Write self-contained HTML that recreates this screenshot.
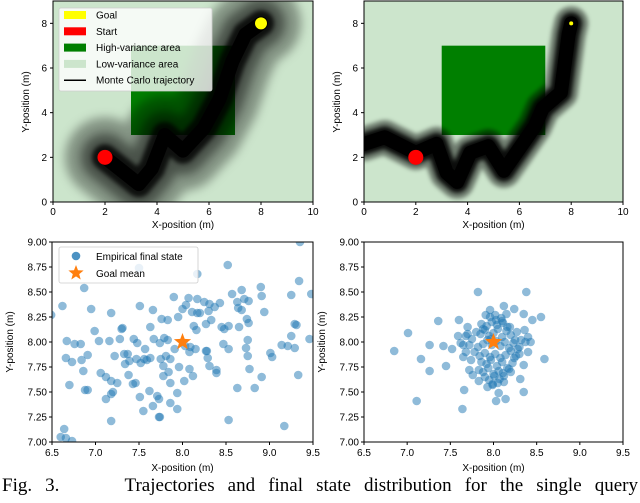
<!DOCTYPE html>
<html><head><meta charset="utf-8"><style>
html,body{margin:0;padding:0;background:#fff;width:640px;height:503px;overflow:hidden}
svg{position:absolute;left:0;top:0}
text{font-family:"Liberation Sans",sans-serif;font-size:10px;fill:#000}
#caption{position:absolute;left:2px;top:475px;width:636px;font-family:"Liberation Serif",serif;font-size:19px;text-align:justify;text-align-last:justify;white-space:nowrap;word-spacing:8px}
</style></head><body>
<svg id="chart" width="640" height="503"><defs><filter id="blur" filterUnits="userSpaceOnUse" x="0" y="0" width="640" height="503"><feGaussianBlur stdDeviation="5"/></filter><filter id="blur2" filterUnits="userSpaceOnUse" x="0" y="0" width="640" height="503"><feGaussianBlur stdDeviation="2"/></filter></defs></svg>
<div id="caption">Fig. 3.&nbsp;&nbsp;&nbsp;&nbsp; Trajectories and final state distribution for the single query</div>
<script>
// trajectory mean paths (data units)
const trajLX=[2,3.3,3.8,4.3,5,5.8,6.4,6.9,7.4,8];
const trajLY=[2,0.8,1.5,3,2.3,3.3,4.6,6.3,7.5,8];
const trajRX=[0,0.8,2,2.8,3.2,3.6,4.1,4.8,5.4,6.6,6.9,7.6,7.9,8];
const trajRY=[2.6,2.9,2.2,2.6,1.3,0.9,2.2,2.5,1.4,3.4,4.2,4.9,7.5,8];
// scatter data
const wideX=[7.50,8.52,8.17,6.87,6.62,6.95,7.18,7.51,7.66,7.90,8.07,8.17,7.95,7.76,7.83,8.00,8.04,8.11,8.17,8.20,8.25,8.30,8.31,8.37,8.43,8.57,8.68,8.63,8.71,8.76,8.64,8.68,8.74,8.76,8.65,8.53,8.45,8.48,8.13,8.16,8.27,8.33,7.63,7.31,7.30,6.99,6.67,6.76,6.83,7.04,7.16,7.28,7.44,7.48,7.67,7.79,7.83,7.74,7.57,7.91,8.03,8.09,8.15,8.08,6.66,6.73,6.84,6.91,7.22,7.33,7.37,7.34,7.39,7.47,7.52,7.56,7.59,7.63,7.75,7.81,7.86,7.78,7.96,8.08,8.27,8.29,8.28,8.31,8.39,8.39,8.47,8.53,8.73,8.75,8.75,8.77,9.01,9.03,9.14,9.21,9.29,9.25,9.29,9.31,9.46,9.48,9.34,9.25,8.90,8.91,8.94,8.91,8.83,8.63,8.53,9.17,9.33,9.35,7.86,8.02,8.12,7.94,7.94,7.86,7.71,7.73,7.62,7.51,7.55,7.66,7.73,7.74,7.84,7.78,7.38,7.43,7.46,7.06,7.12,7.18,7.25,7.18,7.20,7.12,6.88,6.91,6.70,7.18,6.60,6.64,6.66,6.73,6.49,6.86];
const wideY=[8.74,8.77,8.68,8.54,8.36,8.33,8.29,8.36,8.32,8.45,8.44,8.43,8.25,8.23,8.22,8.33,8.37,8.30,8.29,8.29,8.40,8.31,8.38,8.35,8.39,8.48,8.52,8.40,8.43,8.41,8.34,8.32,8.23,8.19,8.15,8.16,8.15,8.13,8.16,8.12,8.18,8.22,8.15,8.14,8.13,8.11,8.01,7.98,7.98,8.01,8.01,8.03,8.03,7.99,8.03,8.04,8.02,7.99,7.93,7.93,7.96,7.95,7.93,7.90,7.84,7.80,7.82,7.87,7.86,7.88,7.88,7.78,7.81,7.83,7.79,7.83,7.82,7.84,7.83,7.86,7.83,7.76,7.75,7.73,7.91,7.84,7.91,7.76,7.72,7.69,7.98,7.93,7.94,8.02,7.86,7.73,7.89,7.85,7.97,7.96,7.94,8.06,8.18,8.17,8.03,8.48,8.61,8.47,8.55,8.46,8.30,7.65,7.54,7.54,7.22,7.16,7.67,9.00,7.59,7.61,7.66,7.49,7.33,7.39,7.46,7.43,7.51,7.45,7.31,7.36,7.25,7.25,7.70,7.66,7.67,7.58,7.59,7.69,7.65,7.61,7.59,7.48,7.50,7.43,7.52,7.52,7.57,7.21,7.05,7.13,7.04,7.01,8.27,7.71];
const tightX=[6.85,7.01,7.16,7.26,7.26,7.36,7.42,7.45,7.11,7.64,7.66,7.52,7.60,7.59,7.82,8.38,8.12,8.24,8.35,8.55,8.45,8.59,8.40,8.35,8.35,8.14,8.03,8.06,7.99,7.83,7.96,7.91,7.70,7.68,7.65,7.65,7.72,7.76,8.31,8.30,8.36,8.37,8.19,8.11,8.03,
7.80,7.85,7.90,7.95,8.00,8.05,8.10,8.15,8.20,8.25,7.82,7.88,7.93,7.98,8.03,8.08,8.13,8.18,8.23,8.28,7.78,7.84,7.90,7.96,8.02,8.08,8.14,8.20,8.26,7.75,7.86,7.92,7.97,8.04,8.10,8.16,8.22,8.30,7.72,7.83,7.88,7.94,8.00,8.06,8.12,8.18,8.24,7.86,7.92,7.98,8.04,8.10,8.16,7.90,7.95,8.01,8.07,8.12,7.96,8.02,8.09,8.15,7.70,7.74,8.27,8.32,7.93,7.99,8.05,7.97,8.11,8.40,7.62,7.68,8.43,8.20,7.88];
const tightY=[7.91,8.09,7.83,7.97,7.71,8.21,7.96,7.76,7.41,7.33,7.52,7.93,8.22,8.06,8.50,8.50,8.36,8.33,8.28,8.25,8.22,7.83,7.90,7.77,7.50,7.43,7.41,7.49,7.58,7.61,8.32,8.27,8.15,8.06,7.97,7.85,7.72,7.67,7.63,7.88,8.12,8.00,8.15,8.19,8.22,
8.10,8.08,8.12,8.06,8.09,8.13,8.05,8.11,8.07,8.02,7.95,7.98,8.02,7.97,8.01,7.96,8.00,7.94,7.99,7.93,7.90,7.86,7.89,7.85,7.88,7.84,7.87,7.91,7.86,8.03,7.80,7.78,7.82,7.76,7.80,7.74,7.79,7.95,7.97,7.72,7.70,7.74,7.68,7.71,7.66,7.73,7.84,8.18,8.16,8.20,8.17,8.21,8.15,7.65,7.62,7.66,7.63,7.60,8.25,8.27,8.24,8.28,8.08,7.82,8.10,8.02,7.55,7.57,7.59,8.03,7.69,8.05,7.99,7.90,8.00,7.70,8.13];
const topTicks=[0,2,4,6,8,10], topYTicks=[0,2,4,6,8];
const botXTicks=[6.5,7.0,7.5,8.0,8.5,9.0,9.5], botYTicks=[7.00,7.25,7.50,7.75,8.00,8.25,8.50,8.75,9.00];

const svg=document.getElementById('chart');const NS='http://www.w3.org/2000/svg';
function el(tag,attrs,parent){const e=document.createElementNS(NS,tag);for(const k in attrs)e.setAttribute(k,attrs[k]);(parent||svg).appendChild(e);return e;}
function txt(s,x,y,anchor,parent,rot){const t=el('text',{x:x,y:y,'text-anchor':anchor||'middle'},parent);if(rot)t.setAttribute('transform','rotate(-90 '+x+' '+y+')');t.textContent=s;return t;}
function axisFn(d0,d1,p0,p1){return v=>p0+(v-d0)/(d1-d0)*(p1-p0);}

function topPanel(name,L,R,tx,ty,goalR,layers){
  const g=el('g',{});
  
  
  const sx=axisFn(0,10,L,R), sy=axisFn(0,9,202,1);
  el('clipPath',{id:'c'+name},g);el('rect',{x:L,y:1,width:R-L,height:201},g.lastChild);
  const bg=el('rect',{x:L,y:1,width:R-L,height:201,fill:'#cce5cc'},g);
  
  const hv=el('rect',{x:sx(3),y:sy(7),width:sx(7)-sx(3),height:sy(3)-sy(7),fill:'#007f00'},g);
  
  const cg=el('g',{'clip-path':'url(#c'+name+')'},g);
  const pts=tx.map((x,i)=>sx(x)+','+sy(ty[i])).join(' ');
  layers.forEach(([w,o,f])=>{
    const p=el('polyline',{points:pts,fill:'none',stroke:'#000','stroke-width':w,'stroke-opacity':o,'stroke-linejoin':'round','stroke-linecap':'round'},cg);
    if(f)p.setAttribute('filter','url(#'+f+')');
    
  });
  const gl=el('circle',{cx:sx(8),cy:sy(8),r:goalR,fill:'#ffff00'},g);
  
  const st=el('circle',{cx:sx(2),cy:sy(2),r:7.5,fill:'#ff0000'},g);
  
  el('rect',{x:L,y:1,width:R-L,height:201,fill:'none',stroke:'#000','stroke-width':1},g);
  topTicks.forEach(v=>{el('line',{x1:sx(v),x2:sx(v),y1:202,y2:205,stroke:'#000'},g);const t=txt(String(v),sx(v),215,'middle',g);});
  topYTicks.forEach(v=>{el('line',{x1:L-3,x2:L,y1:sy(v),y2:sy(v),stroke:'#000'},g);const t=txt(String(v),L-6,sy(v)+3.5,'end',g);});
  const xl=txt('X-position (m)',(L+R)/2,228,'middle',g);
  const yl=txt('Y-position (m)',L-24,102,'middle',g,true);
  return g;
}
topPanel('trajectory-plot-high-variance',53,313,trajLX,trajLY,6,[[80,0.35,'blur'],[48,0.45,'blur'],[26,0.8,'blur2'],[14,0.95,null]]);
topPanel('trajectory-plot-low-variance',364,623,trajRX,trajRY,2,[[34,0.45,'blur2'],[22,0.9,'blur2'],[14,1,null]]);

// legend top-left
const lg=el('g',{});


el('rect',{x:59,y:8,width:153,height:83,rx:2,fill:'#fff','fill-opacity':0.8,stroke:'#ccc','stroke-width':0.8},lg);
[['Goal','#ffff00'],['Start','#ff0000'],['High-variance area','#007f00'],['Low-variance area','#cce5cc'],['Monte Carlo trajectory',null]].forEach((e,i)=>{
  const y=15+i*16.3;
  if(e[1])el('rect',{x:64,y:y-4,width:22,height:8,fill:e[1]},lg);else el('line',{x1:64,x2:86,y1:y,y2:y,stroke:'#000','stroke-width':1.5},lg);
  const t=txt(e[0],96,y+3.5,'start',lg);
});

function botPanel(name,L,R,xs,ys,legend){
  const g=el('g',{});
  
  
  const sx=axisFn(6.5,9.5,L,R), sy=axisFn(7,9,442,242);
  el('clipPath',{id:'c'+name},g);el('rect',{x:L,y:242,width:R-L,height:200},g.lastChild);
  el('rect',{x:L,y:242,width:R-L,height:200,fill:'#fff'},g);
  const cg=el('g',{'clip-path':'url(#c'+name+')'},g);
  xs.forEach((x,i)=>{const c=el('circle',{cx:sx(x),cy:sy(ys[i]),r:4.3,fill:'#1f77b4','fill-opacity':0.5},cg);
    });
  const star=el('polygon',{points:starPts(sx(8),sy(8),9,3.8),fill:'#ff7f0e'},g);
  
  el('rect',{x:L,y:242,width:R-L,height:200,fill:'none',stroke:'#000','stroke-width':1},g);
  botXTicks.forEach(v=>{el('line',{x1:sx(v),x2:sx(v),y1:442,y2:445,stroke:'#000'},g);const t=txt(v.toFixed(1),sx(v),456,'middle',g);});
  botYTicks.forEach(v=>{el('line',{x1:L-3,x2:L,y1:sy(v),y2:sy(v),stroke:'#000'},g);const t=txt(v.toFixed(2),L-5,sy(v)+3.5,'end',g);});
  const xl=txt('X-position (m)',(L+R)/2,471,'middle',g);
  const yl=txt('Y-position (m)',L-39,342,'middle',g,true);
  if(legend){
    const lgd=el('g',{},g);
    
    
    el('rect',{x:59,y:247,width:139,height:36,rx:2,fill:'#fff','fill-opacity':0.8,stroke:'#ccc','stroke-width':0.8},lgd);
    el('circle',{cx:76,cy:256,r:4.3,fill:'#1f77b4','fill-opacity':0.8},lgd);
    el('polygon',{points:starPts(76,273,8,3.4),fill:'#ff7f0e'},lgd);
    const a=txt('Empirical final state',96,260,'start',lgd);
    const b=txt('Goal mean',96,277,'start',lgd);
  }
}
function starPts(cx,cy,R,r){const p=[];for(let i=0;i<10;i++){const a=-Math.PI/2+i*Math.PI/5;const rr=i%2?r:R;p.push((cx+rr*Math.cos(a)).toFixed(1)+','+(cy+rr*Math.sin(a)).toFixed(1));}return p.join(' ');}
botPanel('final-state-scatter-high-variance',52,313,wideX,wideY,true);
botPanel('final-state-scatter-low-variance',364,623,tightX,tightY,false);
</script>
</body></html>
